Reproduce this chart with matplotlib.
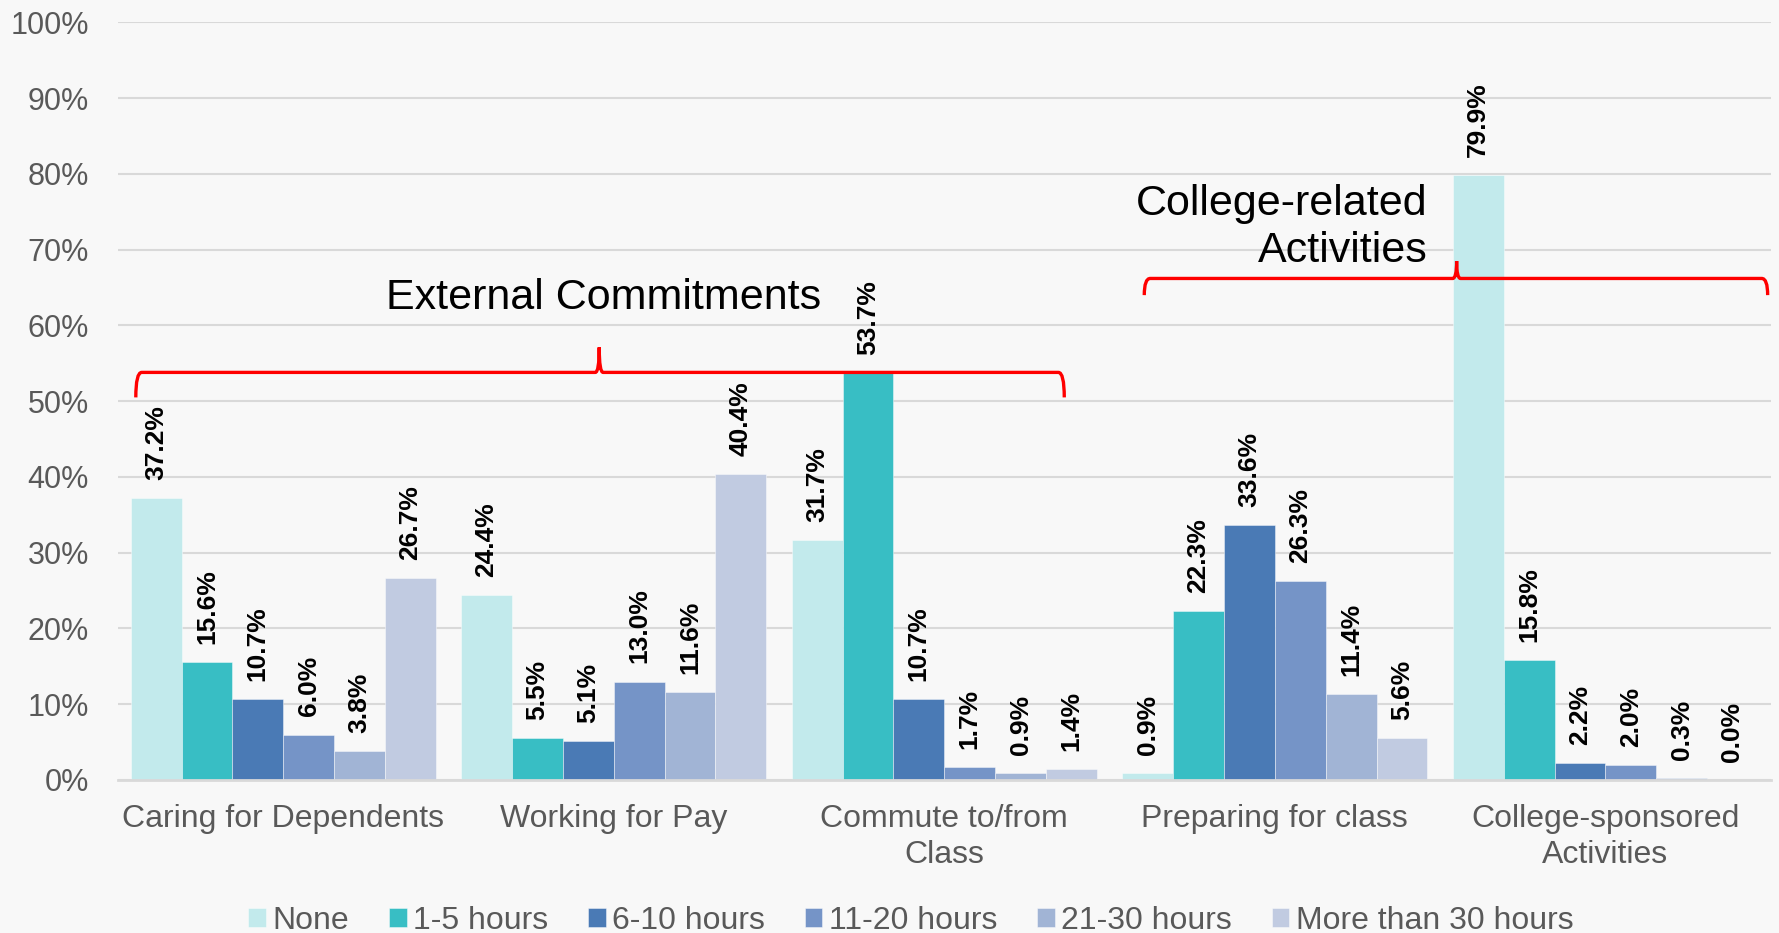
import numpy as np
import matplotlib
matplotlib.use("Agg")
import matplotlib.pyplot as plt
from matplotlib.path import Path
from matplotlib.patches import PathPatch

plt.rcParams['font.family'] = ['Liberation Sans', 'DejaVu Sans']

categories = ["Caring for Dependents", "Working for Pay", "Commute to/from\nClass",
              "Preparing for class", "College-sponsored\nActivities"]
series_names = ["None", "1-5 hours", "6-10 hours", "11-20 hours", "21-30 hours",
                "More than 30 hours"]
none_vals = [37.2, 24.4, 31.7, 0.9, 79.9]
h1_5 = [15.6, 5.5, 53.7, 22.3, 15.8]
h6_10 = [10.7, 5.1, 10.7, 33.6, 2.2]
h11_20 = [6.0, 13.0, 1.7, 26.3, 2.0]
h21_30 = [3.8, 11.6, 0.9, 11.4, 0.3]
h30_plus = [26.7, 40.4, 1.4, 5.6, 0.0]
series = [none_vals, h1_5, h6_10, h11_20, h21_30, h30_plus]
colors = ["#C2EAEC", "#38BEC4", "#4A7AB5", "#7594C7", "#A1B4D5", "#C1CBE1"]

bg = "#F8F8F8"
fig = plt.figure(figsize=(17.79, 9.33), dpi=100, facecolor=bg)
ax = fig.add_axes([0.0663, 0.164, 0.929, 0.812], facecolor=bg)

x = np.arange(len(categories))
w = 1 / 6.5
for j, (vals, name, c) in enumerate(zip(series, series_names, colors)):
    pos = x + (j - 2.5) * w
    ax.bar(pos, vals, width=w, color=c, label=name,
           edgecolor=(1, 1, 1, 0.5), linewidth=0.6, zorder=3)
    for p, v in zip(pos, vals):
        ax.annotate(f"{v:.1f}%", (p, v), xytext=(0, 13), textcoords="offset points",
                    rotation=90, ha="center", va="bottom", fontsize=19,
                    fontweight="bold", color="black", zorder=5)

ax.set_xlim(-0.5, 4.5)
ax.set_ylim(0, 100)
ax.set_yticks(np.arange(0, 101, 10))
ax.set_yticklabels([f"{t}%" for t in range(0, 101, 10)])
ax.set_xticks(x)
ax.set_xticklabels(categories)
ax.tick_params(axis="y", length=0, pad=21, labelsize=22, labelcolor="#595959")
ax.tick_params(axis="x", length=0, pad=17, labelsize=23, labelcolor="#595959")
for t in ax.get_xticklabels():
    t.set_linespacing(1.3)
ax.grid(axis="y", color="#D9D9D9", linewidth=1.5, zorder=0)
for s in ["top", "right", "left"]:
    ax.spines[s].set_visible(False)
ax.spines["bottom"].set_color("#D9D9D9")
ax.spines["bottom"].set_linewidth(2)
ax.spines["bottom"].set_zorder(4)


def brace(x0, x1, xm, yb, yh, yp, dx=0.018, sx=0.012):
    verts = [(x0, yb), (x0, yh), (x0 + dx, yh),
             (xm - sx, yh), (xm, yh), (xm, yp),
             (xm, yh), (xm + sx, yh),
             (x1 - dx, yh), (x1, yh), (x1, yb)]
    codes = [Path.MOVETO, Path.CURVE3, Path.CURVE3,
             Path.LINETO, Path.CURVE3, Path.CURVE3,
             Path.CURVE3, Path.CURVE3,
             Path.LINETO, Path.CURVE3, Path.CURVE3]
    ax.add_patch(PathPatch(Path(verts, codes), facecolor="none", edgecolor="#FF0000",
                           linewidth=2.4, zorder=6, clip_on=False))


brace(-0.446, 2.363, 0.956, 50.5, 53.8, 57.1)
brace(2.605, 4.491, 3.55, 64.0, 66.2, 68.5)

ax.text(0.97, 63.6, "External Commitments", fontsize=31, ha="center", va="center",
        color="black", zorder=6)
ax.text(3.462, 72.9, "College-related\nActivities", fontsize=31, ha="right",
        va="center", multialignment="right", linespacing=1.22, color="black", zorder=6)

leg = fig.legend(loc="lower center", bbox_to_anchor=(0.512, -0.034), ncol=6,
                 frameon=False, fontsize=23, handlelength=0.55, handleheight=0.55,
                 handletextpad=0.2, columnspacing=1.25)
for t in leg.get_texts():
    t.set_color("#595959")

fig.savefig("out.png", dpi=100, facecolor=bg)
